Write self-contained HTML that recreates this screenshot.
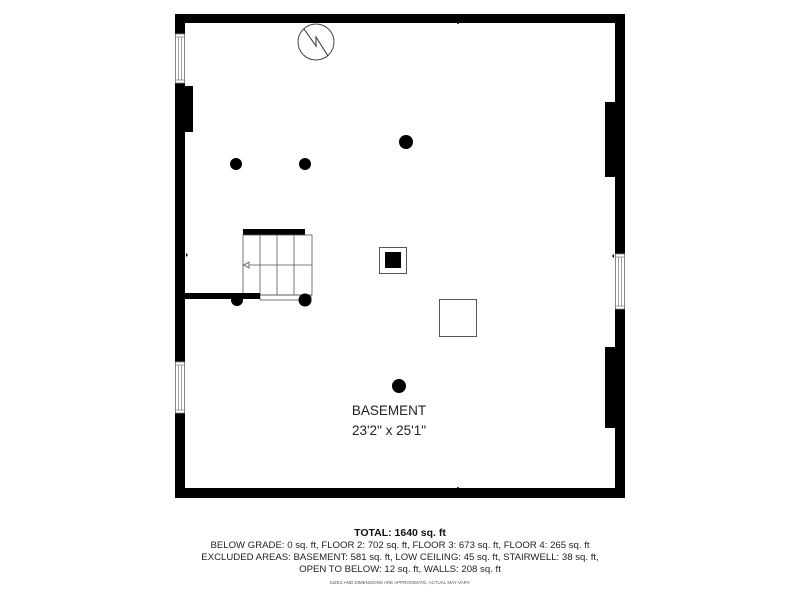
<!DOCTYPE html>
<html><head><meta charset="utf-8"><style>
html,body{margin:0;padding:0;background:#fff;width:800px;height:600px;overflow:hidden}
svg{display:block}
</style></head><body>
<svg width="800" height="600" viewBox="0 0 800 600" xmlns="http://www.w3.org/2000/svg" font-family="Liberation Sans, sans-serif">
<rect x="0" y="0" width="800" height="600" fill="#fff"/>
<rect x="175" y="14" width="450" height="9" fill="#000"/>
<rect x="175" y="488" width="450" height="10" fill="#000"/>
<rect x="175" y="14" width="10" height="484" fill="#000"/>
<rect x="615" y="14" width="10" height="484" fill="#000"/>
<rect x="185" y="86" width="8" height="46" fill="#000"/>
<rect x="605" y="102" width="10" height="75" fill="#000"/>
<rect x="605" y="347" width="10" height="81" fill="#000"/>
<g fill="#fff" stroke="#888" stroke-width="0.8">
<rect x="175.5" y="34" width="9" height="49"/>
<line x1="178.5" y1="37" x2="178.5" y2="80"/><line x1="181.5" y1="37" x2="181.5" y2="80"/>
<line x1="175.5" y1="37" x2="184.5" y2="37"/><line x1="175.5" y1="80" x2="184.5" y2="80"/>
<rect x="175.5" y="362" width="9" height="51"/>
<line x1="178.5" y1="365" x2="178.5" y2="410"/><line x1="181.5" y1="365" x2="181.5" y2="410"/>
<line x1="175.5" y1="365" x2="184.5" y2="365"/><line x1="175.5" y1="410" x2="184.5" y2="410"/>
<rect x="615.5" y="254" width="9" height="55"/>
<line x1="618.5" y1="257" x2="618.5" y2="306"/><line x1="621.5" y1="257" x2="621.5" y2="306"/>
<line x1="615.5" y1="257" x2="624.5" y2="257"/><line x1="615.5" y1="306" x2="624.5" y2="306"/>
</g>
<path d="M457 24 l2 0 l-1 -2z M186 253 l0 4 l2 -2z M614 254 l0 4 l-2 -2z M457 487 l2 0 l-1 2z" fill="#000"/>
<circle cx="316" cy="42" r="18" fill="none" stroke="#444" stroke-width="1"/>
<path d="M304 29 L316 46 L316 37 L328 56" fill="none" stroke="#333" stroke-width="1"/>
<rect x="243" y="229" width="62" height="6" fill="#000"/>
<g fill="none" stroke="#555" stroke-width="0.8">
<rect x="243" y="235" width="69" height="60"/>
<line x1="260" y1="235" x2="260" y2="295"/>
<line x1="277" y1="235" x2="277" y2="295"/>
<line x1="294" y1="235" x2="294" y2="295"/>
<line x1="243" y1="265" x2="312" y2="265"/>
<rect x="260" y="295" width="51" height="5"/>
</g>
<path d="M244 265 l5 -3 l0 6z" fill="#fff" stroke="#555" stroke-width="0.8"/>
<rect x="185" y="293" width="75" height="6" fill="#000"/>
<g fill="#000">
<circle cx="237" cy="300" r="6"/>
<circle cx="305" cy="300" r="6.5"/>
<circle cx="236" cy="164" r="6"/>
<circle cx="305" cy="164" r="6"/>
<circle cx="406" cy="142" r="7"/>
<circle cx="399" cy="386" r="7"/>
</g>
<rect x="379.5" y="247.5" width="27" height="26" fill="#fff" stroke="#555" stroke-width="1"/>
<rect x="385" y="252" width="16" height="16" fill="#000"/>
<rect x="439.5" y="299.5" width="37" height="37" fill="#fff" stroke="#555" stroke-width="1"/>
<text x="389" y="415" font-size="13.5" text-anchor="middle" fill="#222">BASEMENT</text>
<text x="389" y="435" font-size="13.5" text-anchor="middle" fill="#222">23'2" x 25'1"</text>
<text x="400" y="536" font-size="10.5" font-weight="bold" text-anchor="middle" fill="#111">TOTAL: 1640 sq. ft</text>
<text x="400" y="548" font-size="9.6" text-anchor="middle" fill="#222">BELOW GRADE: 0 sq. ft, FLOOR 2: 702 sq. ft, FLOOR 3: 673 sq. ft, FLOOR 4: 265 sq. ft</text>
<text x="400" y="560" font-size="9.6" text-anchor="middle" fill="#222">EXCLUDED AREAS: BASEMENT: 581 sq. ft, LOW CEILING: 45 sq. ft, STAIRWELL: 38 sq. ft,</text>
<text x="400" y="572" font-size="9.6" text-anchor="middle" fill="#222">OPEN TO BELOW: 12 sq. ft, WALLS: 208 sq. ft</text>
<text x="400" y="584" font-size="4.5" text-anchor="middle" fill="#555">SIZES AND DIMENSIONS ARE APPROXIMATE, ACTUAL MAY VARY.</text>
</svg>
</body></html>
